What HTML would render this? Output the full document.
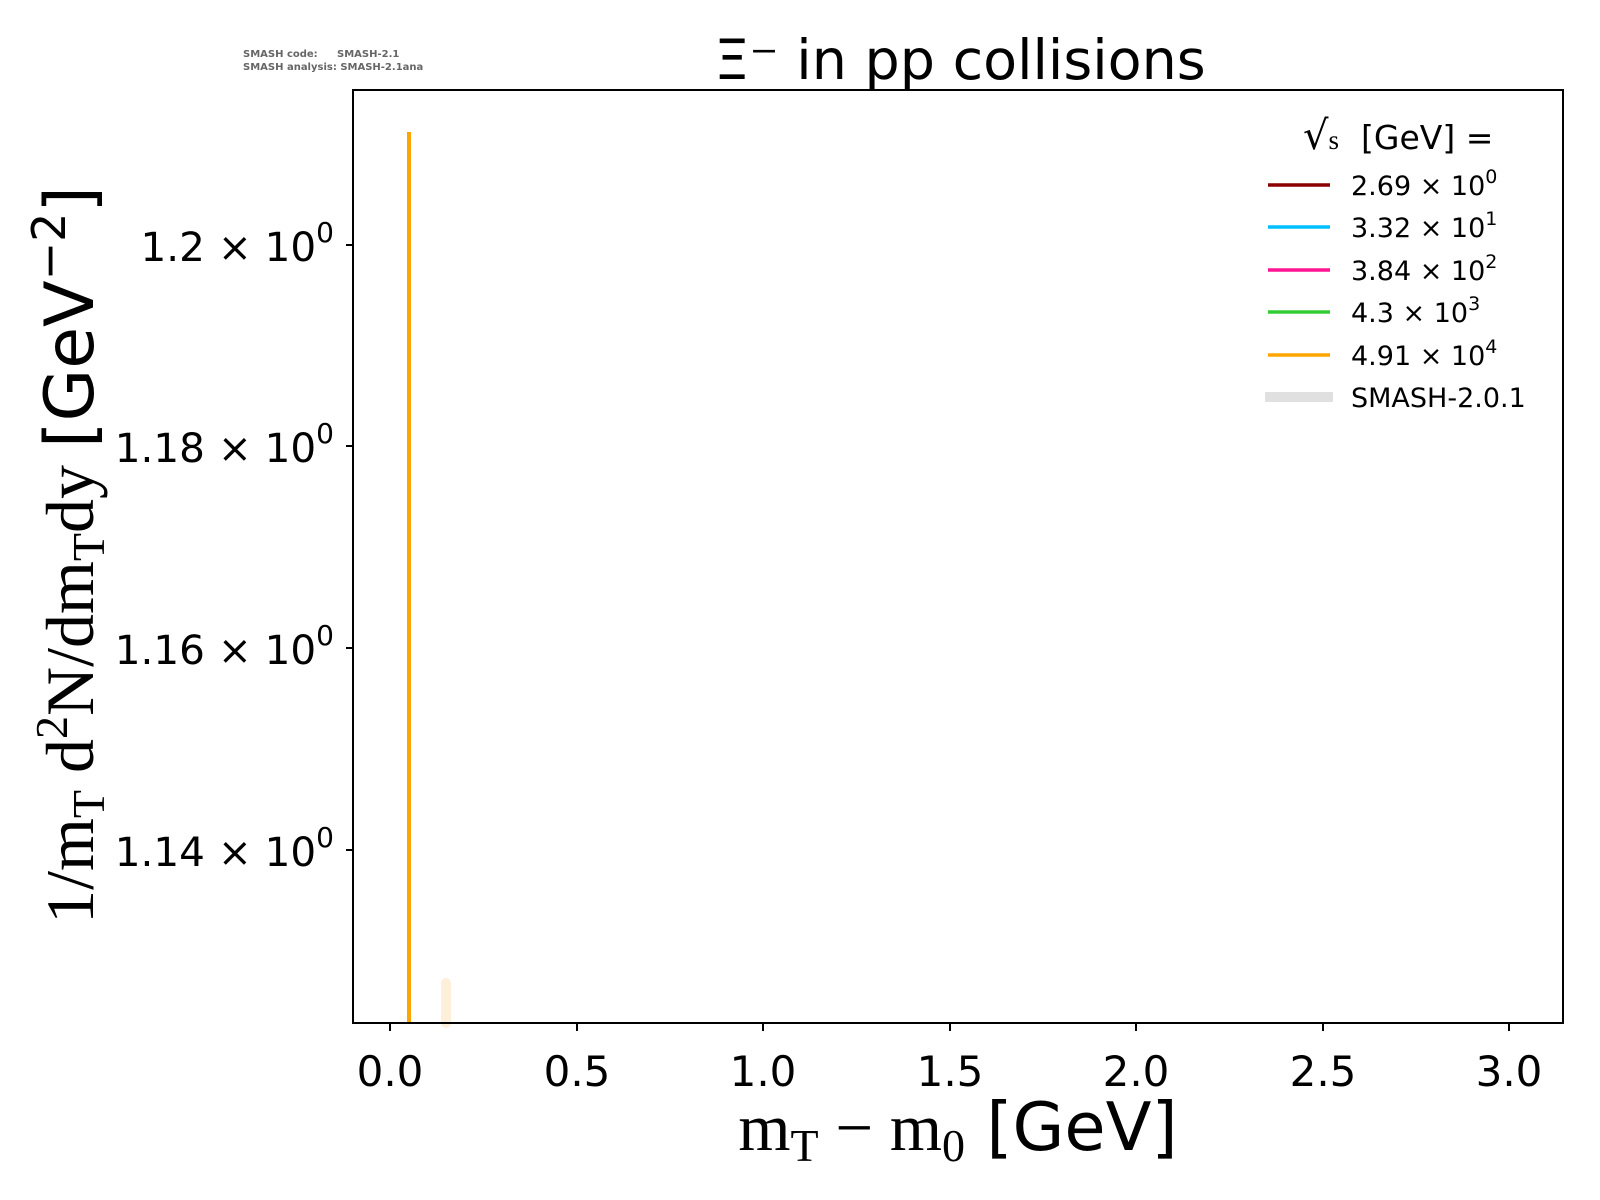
<!DOCTYPE html>
<html><head><meta charset="utf-8"><style>
html,body{margin:0;padding:0;background:#fff;}
svg{display:block;}
</style></head><body>
<svg width="1600" height="1200" viewBox="0 0 1600 1200" xmlns="http://www.w3.org/2000/svg">
<rect width="1600" height="1200" fill="#fff"/>
<g font-family="DejaVu Sans, Liberation Sans, sans-serif" fill="#666" font-size="10" font-weight="bold">
<text x="243" y="57">SMASH code:</text><text x="337" y="57">SMASH-2.1</text>
<text x="243" y="70">SMASH analysis: SMASH-2.1ana</text>
</g>
<text x="960" y="79" text-anchor="middle" font-family="DejaVu Sans, sans-serif" font-size="55.5">Ξ⁻ in pp collisions</text>
<line x1="409" y1="132" x2="409" y2="1023" stroke="#ffa500" stroke-width="4"/>
<line x1="446" y1="983" x2="446" y2="1023" stroke="#fdefd9" stroke-width="10" stroke-linecap="round"/>
<rect x="353" y="90" width="1210" height="933" fill="none" stroke="#000" stroke-width="2"/>
<g stroke="#000" stroke-width="2">
<line x1="353" y1="245" x2="346" y2="245"/><line x1="353" y1="446" x2="346" y2="446"/>
<line x1="353" y1="648" x2="346" y2="648"/><line x1="353" y1="850" x2="346" y2="850"/>
<line x1="390" y1="1023" x2="390" y2="1031"/><line x1="577" y1="1023" x2="577" y2="1031"/>
<line x1="763" y1="1023" x2="763" y2="1031"/><line x1="950" y1="1023" x2="950" y2="1031"/>
<line x1="1136" y1="1023" x2="1136" y2="1031"/><line x1="1323" y1="1023" x2="1323" y2="1031"/>
<line x1="1509" y1="1023" x2="1509" y2="1031"/>
</g>
<g font-family="DejaVu Sans, sans-serif" font-size="40.5" text-anchor="end">
<text x="334" y="261">1.2 × 10<tspan font-size="28" dy="-19">0</tspan></text>
<text x="334" y="462">1.18 × 10<tspan font-size="28" dy="-19">0</tspan></text>
<text x="334" y="664">1.16 × 10<tspan font-size="28" dy="-19">0</tspan></text>
<text x="334" y="866">1.14 × 10<tspan font-size="28" dy="-19">0</tspan></text>
</g>
<g font-family="DejaVu Sans, sans-serif" font-size="42" text-anchor="middle">
<text x="390" y="1086">0.0</text><text x="577" y="1086">0.5</text><text x="763" y="1086">1.0</text>
<text x="950" y="1086">1.5</text><text x="1136" y="1086">2.0</text><text x="1323" y="1086">2.5</text>
<text x="1509" y="1086">3.0</text>
</g>
<text x="958" y="1150" text-anchor="middle" font-size="67"><tspan font-family="Liberation Serif, serif">m<tspan font-size="46" dy="11">T</tspan><tspan dy="-11"> − m</tspan><tspan font-size="46" dy="11">0</tspan></tspan><tspan dy="-11" font-family="DejaVu Sans, sans-serif"> [GeV]</tspan></text>
<text transform="translate(93,555) rotate(-90)" text-anchor="middle" font-size="68"><tspan font-family="Liberation Serif, serif">1/m<tspan font-size="46" dy="11">T</tspan><tspan dy="-11"> d</tspan><tspan font-size="46" dy="-26">2</tspan><tspan dy="26">N/dm</tspan><tspan font-size="46" dy="11">T</tspan><tspan dy="-11">dy </tspan></tspan><tspan font-family="DejaVu Sans, sans-serif">[GeV<tspan font-size="46" dy="-28">−2</tspan><tspan dy="28">]</tspan></tspan></text>
<text x="1303" y="149" font-size="33"><tspan font-family="DejaVu Sans, sans-serif" font-size="40">√</tspan><tspan font-family="Liberation Serif, serif" font-size="27">s</tspan><tspan font-family="DejaVu Sans, sans-serif" dx="22">[GeV] =</tspan></text>
<g stroke-width="3.5">
<line x1="1268" y1="185" x2="1330" y2="185" stroke="#8b0000"/>
<line x1="1268" y1="227" x2="1330" y2="227" stroke="#00bfff"/>
<line x1="1268" y1="270" x2="1330" y2="270" stroke="#ff1493"/>
<line x1="1268" y1="312" x2="1330" y2="312" stroke="#32cd32"/>
<line x1="1268" y1="355" x2="1330" y2="355" stroke="#ffa500"/>
<line x1="1265" y1="397" x2="1333" y2="397" stroke="#e0e0e0" stroke-width="10"/>
</g>
<g font-family="DejaVu Sans, sans-serif" font-size="27">
<text x="1351" y="195">2.69 × 10<tspan font-size="19" dy="-12">0</tspan></text>
<text x="1351" y="237">3.32 × 10<tspan font-size="19" dy="-12">1</tspan></text>
<text x="1351" y="280">3.84 × 10<tspan font-size="19" dy="-12">2</tspan></text>
<text x="1351" y="322">4.3 × 10<tspan font-size="19" dy="-12">3</tspan></text>
<text x="1351" y="365">4.91 × 10<tspan font-size="19" dy="-12">4</tspan></text>
<text x="1351" y="407">SMASH-2.0.1</text>
</g>
</svg>
</body></html>
